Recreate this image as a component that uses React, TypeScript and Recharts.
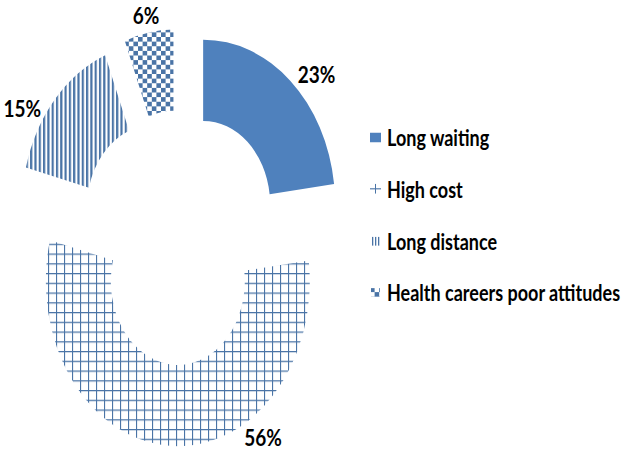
import React from "react";
import { PieChart, Pie, Cell, Legend, Sector } from "recharts";

// reasons for not using the health facility (share of respondents, %)
const causes = [
  "Long waiting",
  "High cost",
  "Long distance",
  "Health careers poor attitudes",
];
const shares = [23, 56, 15, 6];

const data = causes.map((name, i) => ({ name, value: shares[i] }));

const BLUE = "#4F81BD";
const LINE = "#4A74A6";
const FILLS = [BLUE, "url(#gridFill)", "url(#stripeFill)", "url(#checkFill)"];

// label nudges so the % labels sit where the original had them
const LABEL_SHIFT = [6, -38, -10, 0]; // degrees, clockwise
const LABEL_GAP = [22, 19, 22, 14]; // px beyond the outer edge
const EXPLODE = 35;
const STRETCH = 1.25; // the source picture is stretched vertically
const RAD = Math.PI / 180;
const FONT = "Lato, 'Open Sans', sans-serif";

const ExplodedSector = (props: any) => {
  const { cx, cy, midAngle, innerRadius, outerRadius, startAngle, endAngle, fill } = props;
  const dx = EXPLODE * Math.cos(-midAngle * RAD);
  const dy = EXPLODE * Math.sin(-midAngle * RAD);
  return (
    <Sector
      cx={cx + dx}
      cy={cy + dy}
      innerRadius={innerRadius}
      outerRadius={outerRadius}
      startAngle={startAngle}
      endAngle={endAngle}
      fill={fill}
      stroke="none"
    />
  );
};

const renderLabel = (props: any) => {
  const { cx, cy, midAngle, outerRadius, index, value } = props;
  const ox = cx + EXPLODE * Math.cos(-midAngle * RAD);
  const oy = cy + EXPLODE * Math.sin(-midAngle * RAD);
  const a = midAngle - LABEL_SHIFT[index];
  const r = outerRadius + LABEL_GAP[index];
  const x = ox + r * Math.cos(-a * RAD);
  const y = oy + r * Math.sin(-a * RAD);
  return (
    <text
      x={x}
      y={y}
      textAnchor="middle"
      dominantBaseline="central"
      fill="#000"
      fontFamily={FONT}
      fontWeight={700}
      fontSize={19}
    >
      {`${value}%`}
    </text>
  );
};

// little swatches in the legend, drawn like the Excel ones
const LegendIcon = ({ index }: { index: number }) => {
  if (index === 0) {
    return (
      <svg width={11} height={8} style={{ display: "block" }}>
        <rect width={11} height={8} fill={BLUE} />
      </svg>
    );
  }
  if (index === 1) {
    return (
      <svg width={11} height={8} style={{ display: "block" }}>
        <rect x={5} y={0} width={1} height={8} fill={LINE} />
        <rect x={0} y={3.6} width={11} height={0.9} fill={LINE} />
      </svg>
    );
  }
  if (index === 2) {
    return (
      <svg width={11} height={8} style={{ display: "block" }}>
        <rect x={2} y={0.5} width={1.3} height={7} fill={LINE} />
        <rect x={5} y={0.5} width={1.3} height={7} fill={LINE} />
        <rect x={8} y={0.5} width={1.3} height={7} fill={LINE} />
      </svg>
    );
  }
  return (
    <svg width={11} height={8} style={{ display: "block" }}>
      <rect x={1} y={0.5} width={9} height={7} fill="url(#checkFill)" />
    </svg>
  );
};

const renderLegend = () => (
  <div style={{ fontFamily: FONT, fontWeight: 700, fontSize: 18, color: "#000" }}>
    {causes.map((name, i) => (
      <div
        key={name}
        style={{ display: "flex", alignItems: "center", height: 41.5, whiteSpace: "nowrap" }}
      >
        <LegendIcon index={i} />
        <span style={{ marginLeft: 6 }}>{name}</span>
      </div>
    ))}
  </div>
);

const App: React.FC = () => {
  return (
    <div
      style={{
        position: "absolute",
        left: 0,
        top: 0,
        width: 625,
        height: 365,
        background: "#fff",
        transform: `scaleY(${STRETCH})`,
        transformOrigin: "0 0",
      }}
    >
      <PieChart width={625} height={365} margin={{ top: 0, right: 0, bottom: 0, left: 0 }}>
        <defs>
          <pattern id="gridFill" width={8} height={7.8} patternUnits="userSpaceOnUse">
            <rect width={8} height={7.8} fill="#fff" />
            <rect x={0} y={0} width={1.1} height={7.8} fill={LINE} />
            <rect x={0} y={0} width={8} height={1} fill={LINE} />
          </pattern>
          <pattern id="stripeFill" width={4.3} height={4} patternUnits="userSpaceOnUse">
            <rect width={4.3} height={4} fill="#fff" />
            <rect x={0} y={0} width={2.2} height={4} fill={LINE} />
          </pattern>
          <pattern id="checkFill" width={9.2} height={7.4} patternUnits="userSpaceOnUse">
            <rect width={9.2} height={7.4} fill="#fff" />
            <rect x={0} y={0} width={4.6} height={3.7} fill={LINE} />
            <rect x={4.6} y={3.7} width={4.6} height={3.7} fill={LINE} />
          </pattern>
        </defs>
        <Pie
          data={data}
          dataKey="value"
          nameKey="name"
          cx={180}
          cy={190}
          innerRadius={67}
          outerRadius={132}
          startAngle={90}
          endAngle={-270}
          stroke="none"
          shape={ExplodedSector}
          label={renderLabel}
          labelLine={false}
          isAnimationActive={false}
        >
          {data.map((entry, index) => (
            <Cell key={`cell-${index}`} fill={FILLS[index]} />
          ))}
        </Pie>
        <Legend
          layout="vertical"
          align="right"
          verticalAlign="top"
          wrapperStyle={{ left: 370, top: 89, width: 255 }}
          content={renderLegend}
        />
      </PieChart>
    </div>
  );
};

export default App;
